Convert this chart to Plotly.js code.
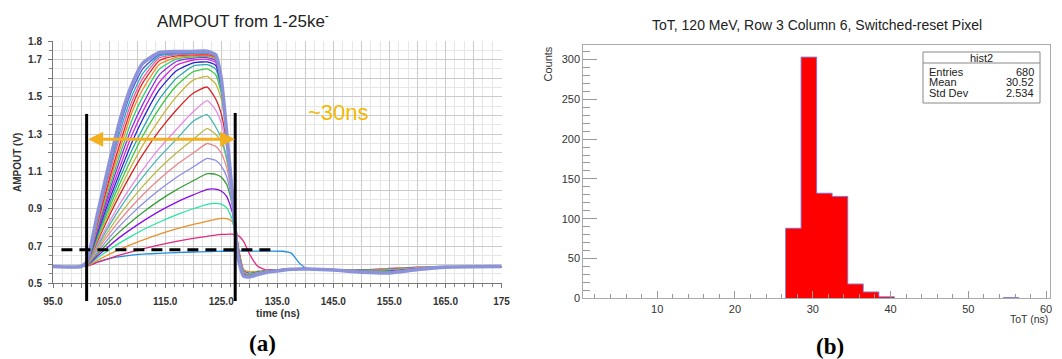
<!DOCTYPE html>
<html><head><meta charset="utf-8">
<script src="https://cdn.plot.ly/plotly-3.0.1.min.js"></script>
<style>html,body{margin:0;padding:0;background:#fff;}#chart{width:1062px;height:359px;}</style>
</head><body><div id="chart"></div>
<script>
// ---------- Panel (a): AMPOUT transient, 1..25 ke- ----------
const timeNs = [95,100,101,103,105,107,109,111,114,117,120,122.5,124,125,126,127,128,129,130,131.5,133,136,137.5,139,140.5,145,150,155,160,165,175];
const q01 = [0.59,0.59,0.592,0.615,0.632,0.643,0.651,0.656,0.661,0.665,0.668,0.67,0.671,0.672,0.672,0.672,0.673,0.673,0.673,0.673,0.673,0.672,0.662,0.607,0.576,0.572,0.571,0.576,0.583,0.588,0.59];
const q02 = [0.59,0.59,0.592,0.613,0.633,0.652,0.669,0.685,0.706,0.725,0.741,0.752,0.759,0.762,0.763,0.764,0.757,0.725,0.66,0.592,0.572,0.574,0.576,0.577,0.577,0.574,0.572,0.58,0.586,0.589,0.59];
const q03 = [0.59,0.59,0.593,0.624,0.655,0.683,0.709,0.732,0.764,0.792,0.816,0.833,0.843,0.848,0.847,0.83,0.7,0.575,0.562,0.565,0.569,0.575,0.577,0.578,0.578,0.574,0.571,0.578,0.585,0.589,0.59];
const q04 = [0.59,0.59,0.594,0.637,0.679,0.718,0.753,0.786,0.829,0.867,0.9,0.924,0.929,0.925,0.905,0.84,0.69,0.568,0.556,0.562,0.567,0.574,0.576,0.577,0.577,0.573,0.57,0.576,0.584,0.588,0.59];
const q05 = [0.59,0.59,0.595,0.648,0.7,0.749,0.792,0.832,0.887,0.934,0.974,1.004,1.005,0.995,0.965,0.88,0.69,0.565,0.552,0.56,0.567,0.574,0.576,0.577,0.577,0.573,0.569,0.575,0.583,0.588,0.59];
const q06 = [0.59,0.59,0.596,0.659,0.722,0.78,0.832,0.88,0.945,1.001,1.05,1.088,1.085,1.07,1.03,0.92,0.69,0.563,0.55,0.558,0.566,0.573,0.576,0.577,0.577,0.573,0.569,0.574,0.582,0.588,0.59];
const q07 = [0.59,0.59,0.597,0.67,0.744,0.811,0.871,0.927,1.002,1.068,1.124,1.17,1.16,1.13,1.07,0.93,0.7,0.562,0.549,0.557,0.565,0.573,0.576,0.577,0.577,0.573,0.568,0.573,0.582,0.588,0.59];
const q08 = [0.59,0.59,0.598,0.682,0.765,0.842,0.911,0.974,1.06,1.135,1.199,1.25,1.235,1.2,1.12,0.95,0.7,0.56,0.548,0.556,0.565,0.573,0.576,0.577,0.577,0.573,0.568,0.572,0.581,0.588,0.59];
const q09 = [0.59,0.59,0.599,0.692,0.786,0.872,0.949,1.02,1.116,1.199,1.272,1.33,1.3,1.26,1.16,0.97,0.7,0.558,0.547,0.556,0.565,0.573,0.576,0.577,0.577,0.573,0.567,0.571,0.58,0.587,0.59];
const q10 = [0.59,0.59,0.6,0.703,0.808,0.905,0.992,1.07,1.178,1.272,1.37,1.405,1.34,1.28,1.17,0.98,0.7,0.556,0.546,0.555,0.564,0.573,0.576,0.577,0.577,0.573,0.567,0.57,0.58,0.587,0.59];
const q11 = [0.59,0.59,0.601,0.714,0.826,0.93,1.023,1.109,1.225,1.325,1.42,1.48,1.43,1.36,1.22,0.99,0.7,0.555,0.545,0.554,0.564,0.572,0.576,0.577,0.577,0.572,0.566,0.569,0.579,0.587,0.59];
const q12 = [0.59,0.59,0.602,0.73,0.86,0.98,1.09,1.19,1.32,1.43,1.52,1.553,1.49,1.41,1.25,1.0,0.7,0.553,0.544,0.553,0.563,0.572,0.576,0.577,0.577,0.572,0.566,0.568,0.579,0.587,0.59];
const q13 = [0.59,0.59,0.603,0.74,0.88,1.01,1.13,1.24,1.38,1.5,1.59,1.61,1.57,1.49,1.29,1.0,0.69,0.552,0.543,0.553,0.563,0.572,0.576,0.577,0.577,0.572,0.565,0.567,0.578,0.587,0.59];
const q14 = [0.59,0.59,0.604,0.753,0.901,1.04,1.17,1.29,1.44,1.56,1.635,1.65,1.62,1.52,1.3,1.0,0.68,0.55,0.542,0.552,0.562,0.571,0.576,0.577,0.577,0.572,0.565,0.566,0.578,0.587,0.59];
const q15 = [0.59,0.59,0.605,0.764,0.923,1.07,1.21,1.33,1.49,1.6,1.665,1.673,1.65,1.54,1.3,0.99,0.675,0.549,0.541,0.552,0.562,0.571,0.575,0.577,0.577,0.572,0.564,0.565,0.577,0.587,0.59];
const q16 = [0.59,0.59,0.606,0.776,0.945,1.1,1.25,1.38,1.54,1.64,1.683,1.688,1.67,1.56,1.3,0.99,0.67,0.548,0.54,0.551,0.562,0.571,0.575,0.577,0.577,0.572,0.564,0.564,0.577,0.587,0.59];
const q17 = [0.59,0.59,0.607,0.787,0.967,1.13,1.29,1.42,1.58,1.67,1.698,1.702,1.685,1.57,1.3,0.985,0.665,0.547,0.54,0.551,0.561,0.571,0.575,0.577,0.577,0.572,0.563,0.563,0.577,0.587,0.59];
const q18 = [0.59,0.59,0.608,0.799,0.99,1.165,1.33,1.46,1.62,1.69,1.708,1.711,1.695,1.58,1.3,0.98,0.66,0.546,0.539,0.55,0.561,0.571,0.575,0.577,0.577,0.571,0.563,0.562,0.576,0.587,0.59];
const q19 = [0.59,0.59,0.609,0.81,1.01,1.195,1.37,1.5,1.65,1.703,1.715,1.717,1.703,1.585,1.3,0.98,0.655,0.545,0.539,0.55,0.561,0.571,0.575,0.577,0.577,0.571,0.562,0.561,0.576,0.587,0.59];
const q20 = [0.59,0.59,0.61,0.822,1.035,1.225,1.41,1.54,1.675,1.712,1.72,1.722,1.708,1.59,1.3,0.975,0.65,0.543,0.538,0.55,0.56,0.57,0.575,0.577,0.577,0.571,0.562,0.56,0.575,0.587,0.59];
const q21 = [0.59,0.59,0.611,0.833,1.055,1.255,1.44,1.575,1.695,1.72,1.726,1.727,1.713,1.595,1.3,0.975,0.648,0.542,0.538,0.549,0.56,0.57,0.575,0.577,0.577,0.571,0.561,0.559,0.575,0.587,0.59];
const q22 = [0.59,0.59,0.612,0.845,1.08,1.29,1.47,1.6,1.71,1.726,1.73,1.731,1.717,1.598,1.3,0.972,0.646,0.541,0.537,0.549,0.56,0.57,0.575,0.577,0.577,0.571,0.561,0.558,0.575,0.587,0.59];
const q23 = [0.59,0.59,0.613,0.857,1.1,1.32,1.5,1.625,1.72,1.731,1.734,1.735,1.72,1.6,1.3,0.97,0.644,0.54,0.537,0.549,0.56,0.57,0.575,0.577,0.577,0.571,0.56,0.557,0.574,0.587,0.59];
const q24 = [0.59,0.59,0.614,0.868,1.12,1.35,1.53,1.65,1.728,1.736,1.738,1.739,1.723,1.6,1.3,0.97,0.642,0.539,0.536,0.548,0.559,0.57,0.575,0.577,0.577,0.571,0.56,0.556,0.574,0.587,0.59];
const q25 = [0.59,0.59,0.615,0.88,1.14,1.38,1.56,1.68,1.738,1.743,1.744,1.745,1.726,1.6,1.3,0.97,0.64,0.538,0.535,0.547,0.558,0.57,0.575,0.577,0.577,0.571,0.56,0.556,0.574,0.587,0.59];
const chargeCurves = [q01,q02,q03,q04,q05,q06,q07,q08,q09,q10,q11,q12,q13,q14,q15,q16,q17,q18,q19,q20,q21,q22,q23,q24,q25];
const curveColors = ['#1f8fe0','#e0287d','#e8902a','#26e6a0','#8a0ee6','#3a9c3a','#8c8ce6','#e6888c','#b8b84a','#48b4b4','#e48ae4','#d42424','#c8b43c','#3cc83c','#28a8a8','#2424d0','#d428d4','#9030e0','#30d070','#f08c28','#e02828','#ff5aa0','#20b0c8','#5050e0','#8c93d8'];
const xTickVals = [95,100,105,110,115,120,125,130,135,140,145,150,155,160,165,170,175];
const xTickText = ['95.0','','105.0','','115.0','','125.0','','135.0','','145.0','','155.0','','165.0','','175'];
const yTickVals = [0.5,0.6,0.7,0.8,0.9,1.0,1.1,1.2,1.3,1.4,1.5,1.6,1.7,1.8];
const yTickText = ['0.5','','0.7','','0.9','','1.1','','1.3','','1.5','','1.7','1.8'];
const thresholdV = 0.68;
const totStart = 101, totEnd = 127.5, arrowV = 1.273;

// ---------- Panel (b): ToT histogram ----------
const totBinCenters = [27.5,29.5,31.5,33.5,35.5,37.5,39.5,55.5];
const totCounts = [88,303,132,128,18,8,2,1];
const binWidth = 2;
const statsName = 'hist2';
const statsLabels = ['Entries','Mean','Std Dev'];
const statsValues = ['680','30.52','2.534'];
const histTicks = [10,20,30,40,50,60];
const countTicks = [0,50,100,150,200,250,300];

const traces = [];
chargeCurves.forEach((ys,i)=>{
  traces.push({x:timeNs, y:ys, type:'scatter', mode:'lines', xaxis:'x', yaxis:'y',
    line:{color:curveColors[i], width:(i===24?3.6:1.3), shape:'spline', smoothing:0.5},
    hoverinfo:'skip', showlegend:false});
});
traces.push({x:totBinCenters, y:totCounts, type:'bar', width:binWidth, xaxis:'x2', yaxis:'y2',
  marker:{color:'#ff0000', line:{width:0}}, hoverinfo:'skip', showlegend:false});
// step outline
const stepX=[], stepY=[];
let prevHi=null;
totBinCenters.forEach((c,i)=>{
  const lo=c-binWidth/2, hi=c+binWidth/2;
  if(prevHi!==null && Math.abs(lo-prevHi)>1e-9){ stepX.push(prevHi, null); stepY.push(0, null); }
  if(prevHi===null || Math.abs(lo-prevHi)>1e-9){ stepX.push(lo); stepY.push(0); }
  stepX.push(lo, hi); stepY.push(totCounts[i], totCounts[i]);
  prevHi=hi;
});
stepX.push(prevHi); stepY.push(0);
traces.push({x:stepX, y:stepY, type:'scatter', mode:'lines', xaxis:'x2', yaxis:'y2',
  line:{color:'#8a80d8', width:1}, connectgaps:false, hoverinfo:'skip', showlegend:false});

const F = 'Liberation Sans, Arial, sans-serif';
const W=1062, H=359, ML=53, MR=12, MT=41, MB=60;
const PW=W-ML-MR, PH=H-MT-MB;
const px = v => (v-ML)/PW;
const py = v => (H-MB-v)/PH;

const shapes = [
  {type:'line', xref:'x', yref:'y domain', x0:totStart, x1:totStart, y0:-0.073, y1:0.699, line:{color:'#000', width:3}, layer:'above'},
  {type:'line', xref:'x', yref:'y domain', x0:totEnd, x1:totEnd, y0:-0.073, y1:0.703, line:{color:'#000', width:3}, layer:'above'},
  {type:'line', xref:'x', yref:'y', x0:96.5, x1:133.8, y0:thresholdV, y1:thresholdV, line:{color:'#000', width:3, dash:'11px,7px'}, layer:'above'},
  {type:'rect', xref:'paper', yref:'paper', x0:px(923), x1:px(1040), y0:py(103), y1:py(52), fillcolor:'#fff', line:{color:'#888', width:1}, layer:'above'},
  {type:'line', xref:'paper', yref:'paper', x0:px(923), x1:px(1040), y0:py(63), y1:py(63), line:{color:'#888', width:1}, layer:'above'}
];

function txt(xp, yp, text, font, extra){
  return Object.assign({xref:'paper', yref:'paper', x:px(xp), y:py(yp), text:text, showarrow:false,
    xanchor:'center', yanchor:'middle', font:font}, extra||{});
}
const annotations = [
  txt(242.5, 20, 'AMPOUT from 1-25ke<sup>-</sup>', {family:F, size:17, color:'#222'}),
  txt(17, 163, 'AMPOUT (V)', {family:F, size:10, color:'#333', weight:'bold'}, {textangle:-90}),
  txt(277.7, 313, 'time (ns)', {family:F, size:10.5, color:'#333', weight:'bold'}),
  {xref:'x', yref:'y', x:totEnd, y:arrowV, ax:totStart, ay:arrowV, axref:'x', ayref:'y', text:'', showarrow:true, arrowhead:2, startarrowhead:2, arrowside:'end+start', arrowsize:1, arrowwidth:3, arrowcolor:'#f2b01e', standoff:0, startstandoff:0},
  {xref:'x', yref:'y', x:145.9, y:1.419, text:'~30ns', showarrow:false, xanchor:'center', yanchor:'middle', font:{family:F, size:22, color:'#f5b800'}},
  txt(262, 343, '<b>(a)</b>', {family:'Liberation Serif, Times New Roman, serif', size:23, color:'#000'}),
  txt(816.7, 25, 'ToT, 120 MeV, Row 3 Column 6, Switched-reset Pixel', {family:F, size:14, color:'#222'}),
  txt(547, 45, 'Counts', {family:F, size:11, color:'#333'}, {textangle:-90, yanchor:'top'}),
  txt(1050, 319, 'ToT (ns)', {family:F, size:10.5, color:'#333'}, {xanchor:'right'}),
  txt(830, 347, '<b>(b)</b>', {family:'Liberation Serif, Times New Roman, serif', size:23, color:'#000'}),
  txt(981.5, 57.5, statsName, {family:F, size:11, color:'#222'})
];
const rowY=[72,82.5,93];
statsLabels.forEach((lab,i)=>{
  annotations.push(txt(927, rowY[i], lab, {family:F, size:11, color:'#222'}, {xanchor:'left'}));
  annotations.push(txt(1036, rowY[i], statsValues[i], {family:F, size:11, color:'#222'}, {xanchor:'right'}));
});

const layout = {
  width:W, height:H, margin:{l:ML, r:MR, t:MT, b:MB}, paper_bgcolor:'#fff', plot_bgcolor:'#fff',
  font:{family:F}, showlegend:false, bargap:0,
  xaxis:{domain:[0, px(501.5)], range:[95,175], tickmode:'array', tickvals:xTickVals, ticktext:xTickText,
    tickfont:{family:F, size:10, color:'#333', weight:'bold'}, showgrid:true, gridcolor:'#cbcbcb', gridwidth:1,
    ticks:'outside', ticklen:4, tickcolor:'#777', showline:true, linecolor:'#777', zeroline:false, ticklabelstandoff:5,
    minor:{tickmode:'linear', tick0:95, dtick:5/3, showgrid:true, gridcolor:'#e6e6e6', ticks:'outside', ticklen:3, tickcolor:'#888'}},
  yaxis:{domain:[py(283.3), 1], range:[0.5,1.8], tickmode:'array', tickvals:yTickVals, ticktext:yTickText,
    tickfont:{family:F, size:10, color:'#333', weight:'bold'}, showgrid:true, gridcolor:'#cbcbcb', gridwidth:1,
    ticks:'outside', ticklen:4, tickcolor:'#777', showline:true, linecolor:'#777', zeroline:false, ticklabelstandoff:4,
    minor:{tickmode:'linear', tick0:0.5, dtick:0.05, showgrid:true, gridcolor:'#e6e6e6', ticks:'outside', ticklen:3, tickcolor:'#888'}},
  xaxis2:{domain:[px(583.3), 1], range:[0.5,60.5], anchor:'y2', tickmode:'array', tickvals:histTicks,
    tickfont:{family:F, size:11, color:'#333'}, showgrid:false, ticks:'inside', ticklen:7, tickcolor:'#999',
    showline:true, linecolor:'#aaa', mirror:true, zeroline:false,
    minor:{tickmode:'linear', tick0:0, dtick:2, ticks:'inside', ticklen:4, tickcolor:'#999'}},
  yaxis2:{domain:[py(298.3), py(45)], range:[0,318.2], anchor:'x2', tickmode:'array', tickvals:countTicks,
    tickfont:{family:F, size:11, color:'#333'}, showgrid:false, ticks:'inside', ticklen:14, tickcolor:'#999',
    showline:true, linecolor:'#aaa', mirror:true, zeroline:false,
    minor:{tickmode:'linear', tick0:0, dtick:10, ticks:'inside', ticklen:7, tickcolor:'#999'}},
  shapes:shapes, annotations:annotations
};
Plotly.newPlot('chart', traces, layout, {staticPlot:true, displayModeBar:false});
</script></body></html>
